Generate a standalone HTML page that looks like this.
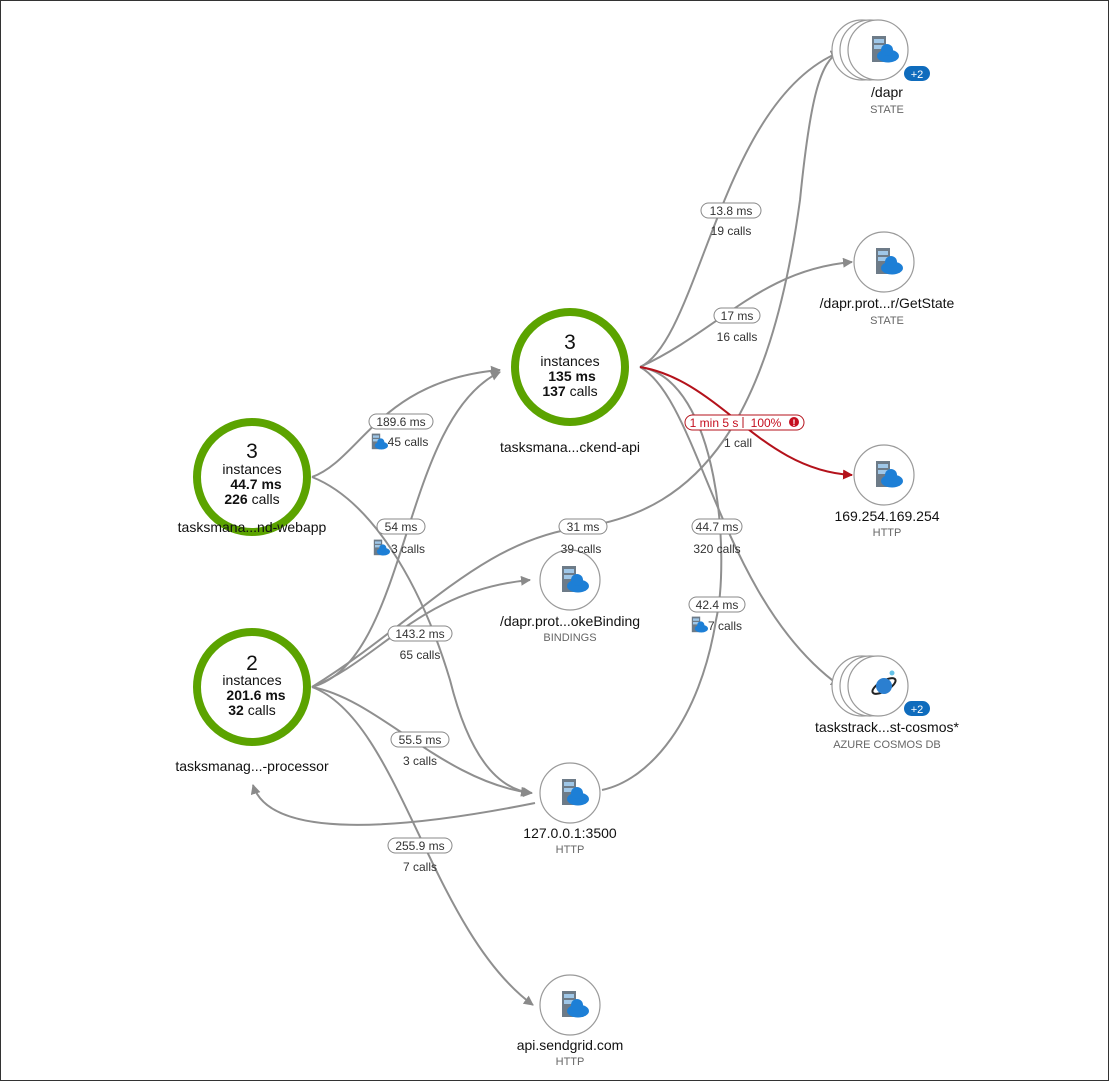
<!DOCTYPE html>
<html><head><meta charset="utf-8"><style>
html,body{margin:0;padding:0;background:#fff;}
svg{display:block;font-family:"Liberation Sans",sans-serif;}
</style></head><body>
<svg width="1109" height="1081" viewBox="0 0 1109 1081" xmlns="http://www.w3.org/2000/svg">
<defs>
<marker id="ag" viewBox="0 0 10 10" refX="9" refY="5" markerWidth="5" markerHeight="5" orient="auto"><path d="M0,0L10,5L0,10z" fill="#8a8a8a"/></marker>
<marker id="ar" viewBox="0 0 10 10" refX="9" refY="5" markerWidth="5" markerHeight="5" orient="auto"><path d="M0,0L10,5L0,10z" fill="#b4121b"/></marker>
<g id="ic">
<rect x="-12" y="-14" width="14" height="26" fill="#6d7b88"/>
<rect x="-10" y="-11" width="10" height="4" fill="#9fc7e8"/>
<rect x="-10" y="-5" width="10" height="4" fill="#9fc7e8"/>
<ellipse cx="4" cy="6" rx="11" ry="6.5" fill="#1d7fd6"/>
<circle cx="3" cy="0" r="6" fill="#1d7fd6"/>
</g>
<g id="sic" transform="scale(0.6)"><use href="#ic"/></g>
</defs>
<rect x="0.5" y="0.5" width="1108" height="1080" fill="#fff" stroke="#333"/>

<g fill="none" stroke="#8f8f8f" stroke-width="2">
<path d="M312,477 C360,460 380,380 500,370" marker-end="url(#ag)"/>
<path d="M312,477 C370,500 420,580 450,680 C470,760 500,790 532,793" marker-end="url(#ag)"/>
<path d="M312,687 C410,660 400,420 500,372" marker-end="url(#ag)"/>
<path d="M312,687 C420,620 480,540 583,527 C700,510 770,420 800,200 C810,100 820,60 840,52" marker-end="url(#ag)"/>
<path d="M312,687 C380,660 420,590 530,580" marker-end="url(#ag)"/>
<path d="M312,687 C380,700 440,780 530,793" marker-end="url(#ag)"/>
<path d="M312,687 C400,720 430,930 533,1005" marker-end="url(#ag)"/>
<path d="M535,803 C400,830 270,840 253,785" marker-end="url(#ag)"/>
<path d="M640,367 C700,340 720,100 840,52" marker-end="url(#ag)"/>
<path d="M640,367 C720,330 760,270 852,262" marker-end="url(#ag)"/>
<path d="M640,367 C700,400 720,600 840,686" marker-end="url(#ag)"/>
<path d="M640,367 C720,380 730,560 716,620 C700,720 650,780 602,790"/>
</g>
<path d="M640,367 C720,380 760,470 852,475" fill="none" stroke="#b4121b" stroke-width="2" marker-end="url(#ar)"/>

<g fill="#fff" stroke="#5ba300" stroke-width="8">
<circle cx="252" cy="477" r="55"/><circle cx="252" cy="687" r="55"/><circle cx="570" cy="367" r="55"/>
</g>
<g text-anchor="middle" fill="#111">
<text x="252" y="458" font-size="21">3</text><text x="252" y="474" font-size="14">instances</text>
<text x="256" y="489" font-size="14" font-weight="bold">44.7 ms</text><text x="252" y="504" font-size="14"><tspan font-weight="bold">226</tspan> calls</text>
<text x="252" y="670" font-size="21">2</text><text x="252" y="685" font-size="14">instances</text>
<text x="256" y="700" font-size="14" font-weight="bold">201.6 ms</text><text x="252" y="715" font-size="14"><tspan font-weight="bold">32</tspan> calls</text>
<text x="570" y="349" font-size="21">3</text><text x="570" y="366" font-size="14">instances</text>
<text x="572" y="381" font-size="14" font-weight="bold">135 ms</text><text x="570" y="396" font-size="14"><tspan font-weight="bold">137</tspan> calls</text>
<text x="252" y="532" font-size="14">tasksmana...nd-webapp</text>
<text x="252" y="771" font-size="14">tasksmanag...-processor</text>
<text x="570" y="452" font-size="14">tasksmana...ckend-api</text>
</g>

<g fill="#fff" stroke="#9a9a9a" stroke-width="1.2">
<circle cx="862" cy="50" r="30"/><circle cx="870" cy="50" r="30"/><circle cx="878" cy="50" r="30"/>
<circle cx="884" cy="262" r="30"/><circle cx="884" cy="475" r="30"/>
<circle cx="862" cy="686" r="30"/><circle cx="870" cy="686" r="30"/><circle cx="878" cy="686" r="30"/>
<circle cx="570" cy="580" r="30"/><circle cx="570" cy="793" r="30"/><circle cx="570" cy="1005" r="30"/>
</g>
<use href="#ic" x="884" y="50"/><use href="#ic" x="888" y="262"/><use href="#ic" x="888" y="475"/>
<use href="#ic" x="574" y="580"/><use href="#ic" x="574" y="793"/><use href="#ic" x="574" y="1005"/>
<g transform="translate(884,686)"><ellipse rx="13" ry="5" fill="none" stroke="#222" stroke-width="2" transform="rotate(-30)"/><circle r="8" fill="#2b7fd0"/><circle cx="8" cy="-13" r="2.5" fill="#66c3e8"/></g>
<g fill="#0f6cbd"><rect x="904" y="66" width="26" height="15" rx="7.5"/><rect x="904" y="701" width="26" height="15" rx="7.5"/></g>
<g fill="#fff" font-size="11" text-anchor="middle"><text x="917" y="78">+2</text><text x="917" y="713">+2</text></g>

<g text-anchor="middle">
<g font-size="14" fill="#111">
<text x="887" y="97">/dapr</text><text x="887" y="308">/dapr.prot...r/GetState</text>
<text x="887" y="521">169.254.169.254</text><text x="887" y="732">taskstrack...st-cosmos*</text>
<text x="570" y="626">/dapr.prot...okeBinding</text><text x="570" y="838">127.0.0.1:3500</text>
<text x="570" y="1050">api.sendgrid.com</text></g>
<g font-size="11" fill="#666">
<text x="887" y="113">STATE</text><text x="887" y="324">STATE</text><text x="887" y="536">HTTP</text>
<text x="887" y="748">AZURE COSMOS DB</text><text x="570" y="641">BINDINGS</text><text x="570" y="853">HTTP</text><text x="570" y="1065">HTTP</text></g>
</g>

<g fill="#fff" stroke="#888" stroke-width="1">
<rect x="369" y="414" width="64" height="15" rx="7.5"/>
<rect x="377" y="519" width="48" height="15" rx="7.5"/>
<rect x="559" y="519" width="48" height="15" rx="7.5"/>
<rect x="388" y="626" width="64" height="15" rx="7.5"/>
<rect x="391" y="732" width="58" height="15" rx="7.5"/>
<rect x="388" y="838" width="64" height="15" rx="7.5"/>
<rect x="701" y="203" width="60" height="15" rx="7.5"/>
<rect x="714" y="308" width="46" height="15" rx="7.5"/>
<rect x="692" y="519" width="50" height="15" rx="7.5"/>
<rect x="689" y="597" width="56" height="15" rx="7.5"/>
</g>
<rect x="685" y="415" width="119" height="15" rx="7.5" fill="#fff" stroke="#b4121b"/>
<line x1="743" y1="417" x2="743" y2="428" stroke="#b4121b"/>
<circle cx="794" cy="422" r="5" fill="#c50f1f"/>
<g font-size="12" text-anchor="middle" fill="#333">
<text x="401" y="426">189.6 ms</text><text x="408" y="446">45 calls</text>
<text x="401" y="531">54 ms</text><text x="408" y="553">3 calls</text>
<text x="583" y="531">31 ms</text><text x="581" y="553">39 calls</text>
<text x="420" y="638">143.2 ms</text><text x="420" y="659">65 calls</text>
<text x="420" y="744">55.5 ms</text><text x="420" y="765">3 calls</text>
<text x="420" y="850">255.9 ms</text><text x="420" y="871">7 calls</text>
<text x="731" y="215">13.8 ms</text><text x="731" y="235">19 calls</text>
<text x="737" y="320">17 ms</text><text x="737" y="341">16 calls</text>
<text x="717" y="531">44.7 ms</text><text x="717" y="553">320 calls</text>
<text x="717" y="609">42.4 ms</text><text x="725" y="630">7 calls</text>
<text x="738" y="447">1 call</text>
</g>
<g font-size="12" fill="#c50f1f" text-anchor="middle"><text x="714" y="427">1 min 5 s</text><text x="766" y="427">100%</text></g>
<text x="794" y="426" font-size="9" fill="#fff" text-anchor="middle" font-weight="bold">!</text>
<use href="#sic" x="379" y="442"/><use href="#sic" x="381" y="548"/><use href="#sic" x="699" y="625"/>
</svg>
</body></html>
